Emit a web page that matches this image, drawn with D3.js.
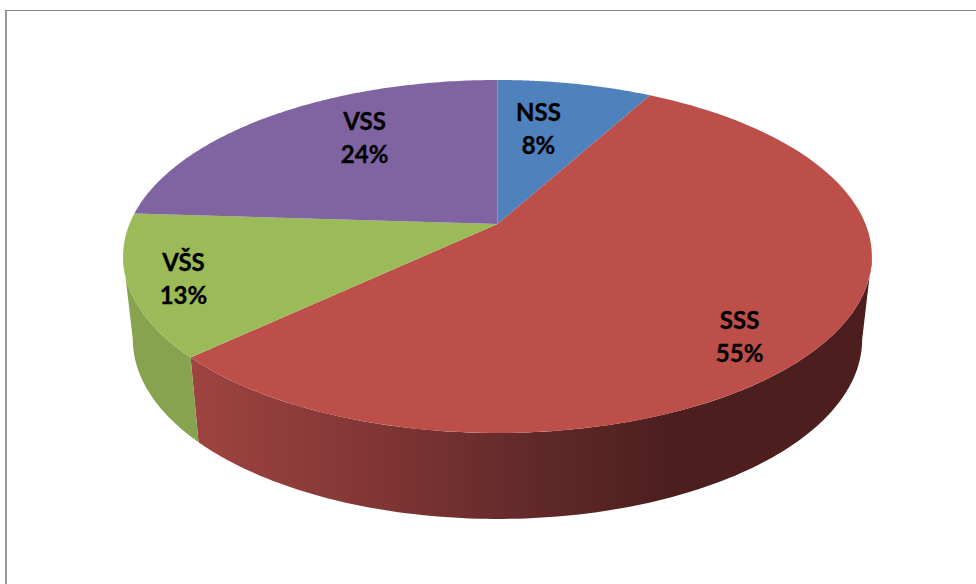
<!DOCTYPE html>
<html>
<head>
<meta charset="utf-8">
<script src="https://d3js.org/d3.v7.min.js"></script>
<style>
  html, body { margin: 0; padding: 0; background: #fff; }
  text { font-family: Lato, "Open Sans", sans-serif; font-weight: 700; font-size: 24px; fill: #000; stroke: #000; stroke-width: 0.35px; }
</style>
</head>
<body>
<div id="chart"></div>
<script>
var categories = ["NSS", "SSS", "VŠS", "VSS"];
var shares = [8, 55, 13, 24];
var topColors = ["#4f81bd", "#bd4f4b", "#9bbb59", "#8064a2"];

var width = 976, height = 584;

// the tilted pie is a circle seen in perspective, c is the perspective strength
var cx = 497.5, apexY = 224, c = -0.184, k = 368, a = 129.3;
// the bottom rim is a little narrower and sits lower
var rimX = 0.974, rimY = 1.017, rimDrop = 78.6;

function project(angle, r) {
  var u = r * Math.sin(angle), v = -r * Math.cos(angle), w = 1 + c * v;
  return [cx + k * u / w, (a * v + apexY) / w];
}
function projectRim(angle) {
  var p = project(angle, 1);
  return [cx + (p[0] - cx) * rimX, p[1] * rimY + rimDrop];
}
function arcPoints(start, end, fn) {
  return d3.range(0, 121).map(function(i) {
    return fn(start + (end - start) * i / 120);
  });
}

var line = d3.line();

var svg = d3.select("#chart")
    .append("svg")
    .attr("width", width)
    .attr("height", height)
    .style("display", "block");

// frame, only the top and left sides show
svg.append("rect").attr("x", 5).attr("y", 10).attr("width", 2).attr("height", height - 10).attr("fill", "#9a9a9a");
svg.append("rect").attr("x", 5).attr("y", 10).attr("width", width - 5).attr("height", 1).attr("fill", "#868686");

var arcs = d3.pie().sort(null).value(function(d) { return d; })(shares);

var defs = svg.append("defs");
var redSide = defs.append("linearGradient")
    .attr("id", "redSide")
    .attr("gradientUnits", "userSpaceOnUse")
    .attr("x1", 190).attr("x2", 670).attr("y1", 0).attr("y2", 0);
redSide.append("stop").attr("offset", "0%").attr("stop-color", "#9e4440");
redSide.append("stop").attr("offset", "35%").attr("stop-color", "#843736");
redSide.append("stop").attr("offset", "70%").attr("stop-color", "#622a29");
redSide.append("stop").attr("offset", "100%").attr("stop-color", "#4c1f1e");

// silhouette angles, where the wall leaves the top ellipse
var rightEdge = Math.PI - Math.acos(-c);
var leftEdge = 2 * Math.PI - rightEdge;

// side walls
var walls = [
  {start: rightEdge, end: arcs[1].endAngle, fill: "url(#redSide)"},
  {start: arcs[2].startAngle, end: leftEdge, fill: "#88a34f"}
];
svg.selectAll(".wall")
    .data(walls)
    .enter().append("path")
    .attr("class", "wall")
    .attr("fill", function(d) { return d.fill; })
    .attr("d", function(d) {
      var top = arcPoints(d.start, d.end, function(t) { return project(t, 1); });
      var rim = arcPoints(d.end, d.start, projectRim);
      return line(top.concat(rim)) + "Z";
    });

// top faces
svg.selectAll(".slice")
    .data(arcs)
    .enter().append("path")
    .attr("class", "slice")
    .attr("fill", function(d, i) { return topColors[i]; })
    .attr("d", function(d) {
      var pts = arcPoints(d.startAngle, d.endAngle, function(t) { return project(t, 1); });
      return line([project(0, 0)].concat(pts)) + "Z";
    });

// label radius and angle nudge for each slice
var labelR = [0.64, 0.83, 0.86, 0.69];
var labelNudge = [-0.056, 0.126, -0.009, 0.138];

var labels = svg.selectAll(".label")
    .data(arcs)
    .enter().append("g")
    .attr("class", "label")
    .attr("transform", function(d, i) {
      var mid = (d.startAngle + d.endAngle) / 2 + labelNudge[i];
      var p = project(mid, labelR[i]);
      return "translate(" + p[0] + "," + p[1] + ")";
    });
labels.append("text")
    .attr("text-anchor", "middle")
    .attr("y", -7)
    .text(function(d, i) { return categories[i]; });
labels.append("text")
    .attr("text-anchor", "middle")
    .attr("y", 26)
    .text(function(d) { return d.data + "%"; });
</script>
</body>
</html>
